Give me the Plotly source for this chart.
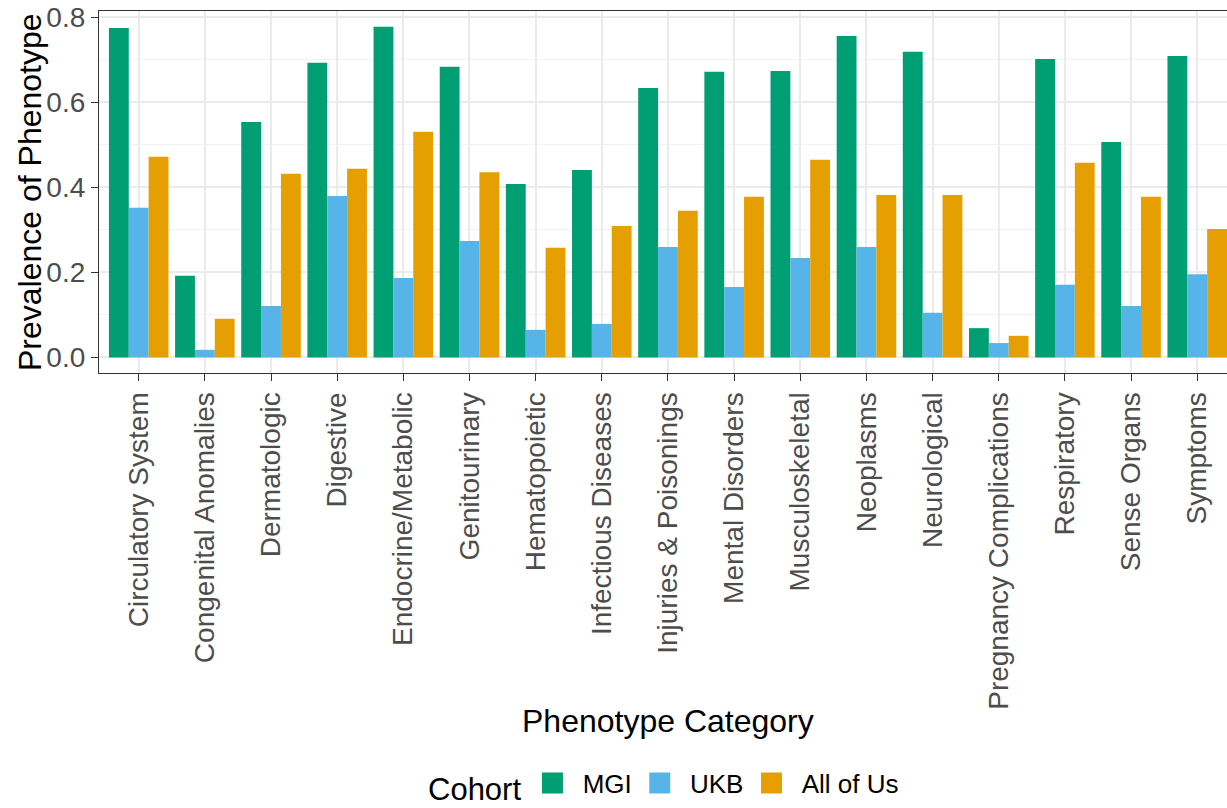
import plotly.graph_objects as go

categories = [
    "Circulatory System", "Congenital Anomalies", "Dermatologic", "Digestive",
    "Endocrine/Metabolic", "Genitourinary", "Hematopoietic", "Infectious Diseases",
    "Injuries & Poisonings", "Mental Disorders", "Musculoskeletal", "Neoplasms",
    "Neurological", "Pregnancy Complications", "Respiratory", "Sense Organs", "Symptoms",
]
mgi = [0.775, 0.192, 0.554, 0.693, 0.778, 0.684, 0.408, 0.441, 0.634,
       0.672, 0.674, 0.756, 0.719, 0.069, 0.702, 0.507, 0.709]
ukb = [0.352, 0.018, 0.121, 0.380, 0.187, 0.274, 0.065, 0.079, 0.260,
       0.166, 0.234, 0.260, 0.105, 0.034, 0.171, 0.121, 0.196]
aou = [0.472, 0.091, 0.432, 0.444, 0.531, 0.436, 0.258, 0.309, 0.345,
       0.378, 0.465, 0.382, 0.382, 0.051, 0.458, 0.378, 0.302]

cohorts = ["MGI", "UKB", "All of Us"]
colors = ["#009E73", "#56B4E9", "#E69F00"]
series = [mgi, ukb, aou]

FONT = "Liberation Sans, Arial, sans-serif"
NBSP = "\u00a0"

fig = go.Figure()
for name, vals, col in zip(cohorts, series, colors):
    fig.add_trace(go.Bar(x=list(range(len(categories))), y=vals, name=name,
                         showlegend=False,
                         marker=dict(color=col, line=dict(width=0))))

# Larger square keys for the legend (bar keys are drawn quite small)
for name, col in zip(cohorts, colors):
    fig.add_trace(go.Scatter(x=[None], y=[None], mode="markers", name=NBSP + name,
                             marker=dict(symbol="square", size=16, color=col,
                                         line=dict(width=5, color=col))))

W, H = 1227, 808
left, top, bottom = 99, 11, 373
plot_h = bottom - top

fig.update_layout(
    width=W, height=H,
    margin=dict(l=left, r=0, t=top, b=H - bottom, autoexpand=False),
    paper_bgcolor="white", plot_bgcolor="white",
    barmode="group", bargap=0.1, bargroupgap=0,
    font=dict(family=FONT, color="#000000"),
    showlegend=True,
    legend=dict(
        orientation="h", x=(665 - left) / (W - left), xanchor="center",
        xref="paper", yref="paper",
        y=(bottom - 785) / plot_h, yanchor="middle",
        title=dict(text="Cohort", font=dict(size=31, color="#000000")),
        font=dict(size=26, color="#000000"),
        itemsizing="trace", itemwidth=36,
    ),
    xaxis=dict(
        range=[-0.6, 16.45],
        tickmode="array", tickvals=list(range(len(categories))), ticktext=categories,
        tickangle=-90,
        tickfont=dict(size=28, color="#4D4D4D", family=FONT),
        ticks="outside", ticklen=7, tickcolor="#333333", tickwidth=1.3,
        showgrid=True, gridcolor="#EBEBEB", gridwidth=1.6,
        showline=True, linecolor="#333333", linewidth=1.2, mirror=True,
        zeroline=False,
    ),
    yaxis=dict(
        range=[-0.0365, 0.815],
        tickmode="array", tickvals=[0, 0.2, 0.4, 0.6, 0.8],
        ticktext=["0.0", "0.2", "0.4", "0.6", "0.8"],
        tickfont=dict(size=28, color="#4D4D4D", family=FONT),
        ticks="outside", ticklen=7, tickcolor="#333333", tickwidth=1.3,
        showgrid=True, gridcolor="#EBEBEB", gridwidth=1.6,
        minor=dict(tickvals=[0.1, 0.3, 0.5, 0.7], showgrid=True,
                   gridcolor="#F2F2F2", gridwidth=0.9, ticks=""),
        showline=True, linecolor="#333333", linewidth=1.2, mirror=False,
        zeroline=False,
    ),
    annotations=[
        dict(text="Phenotype Category", xref="paper", yref="paper",
             x=(668 - left) / (W - left), y=(bottom - 721) / plot_h,
             xanchor="center", yanchor="middle", showarrow=False,
             font=dict(size=32, color="#000000", family=FONT)),
        dict(text="Prevalence of Phenotype", xref="paper", yref="paper",
             x=-(left - 30) / (W - left), y=0.5, textangle=-90,
             xanchor="center", yanchor="middle", showarrow=False,
             font=dict(size=32, color="#000000", family=FONT)),
    ],
)

fig.write_html("out.html")
